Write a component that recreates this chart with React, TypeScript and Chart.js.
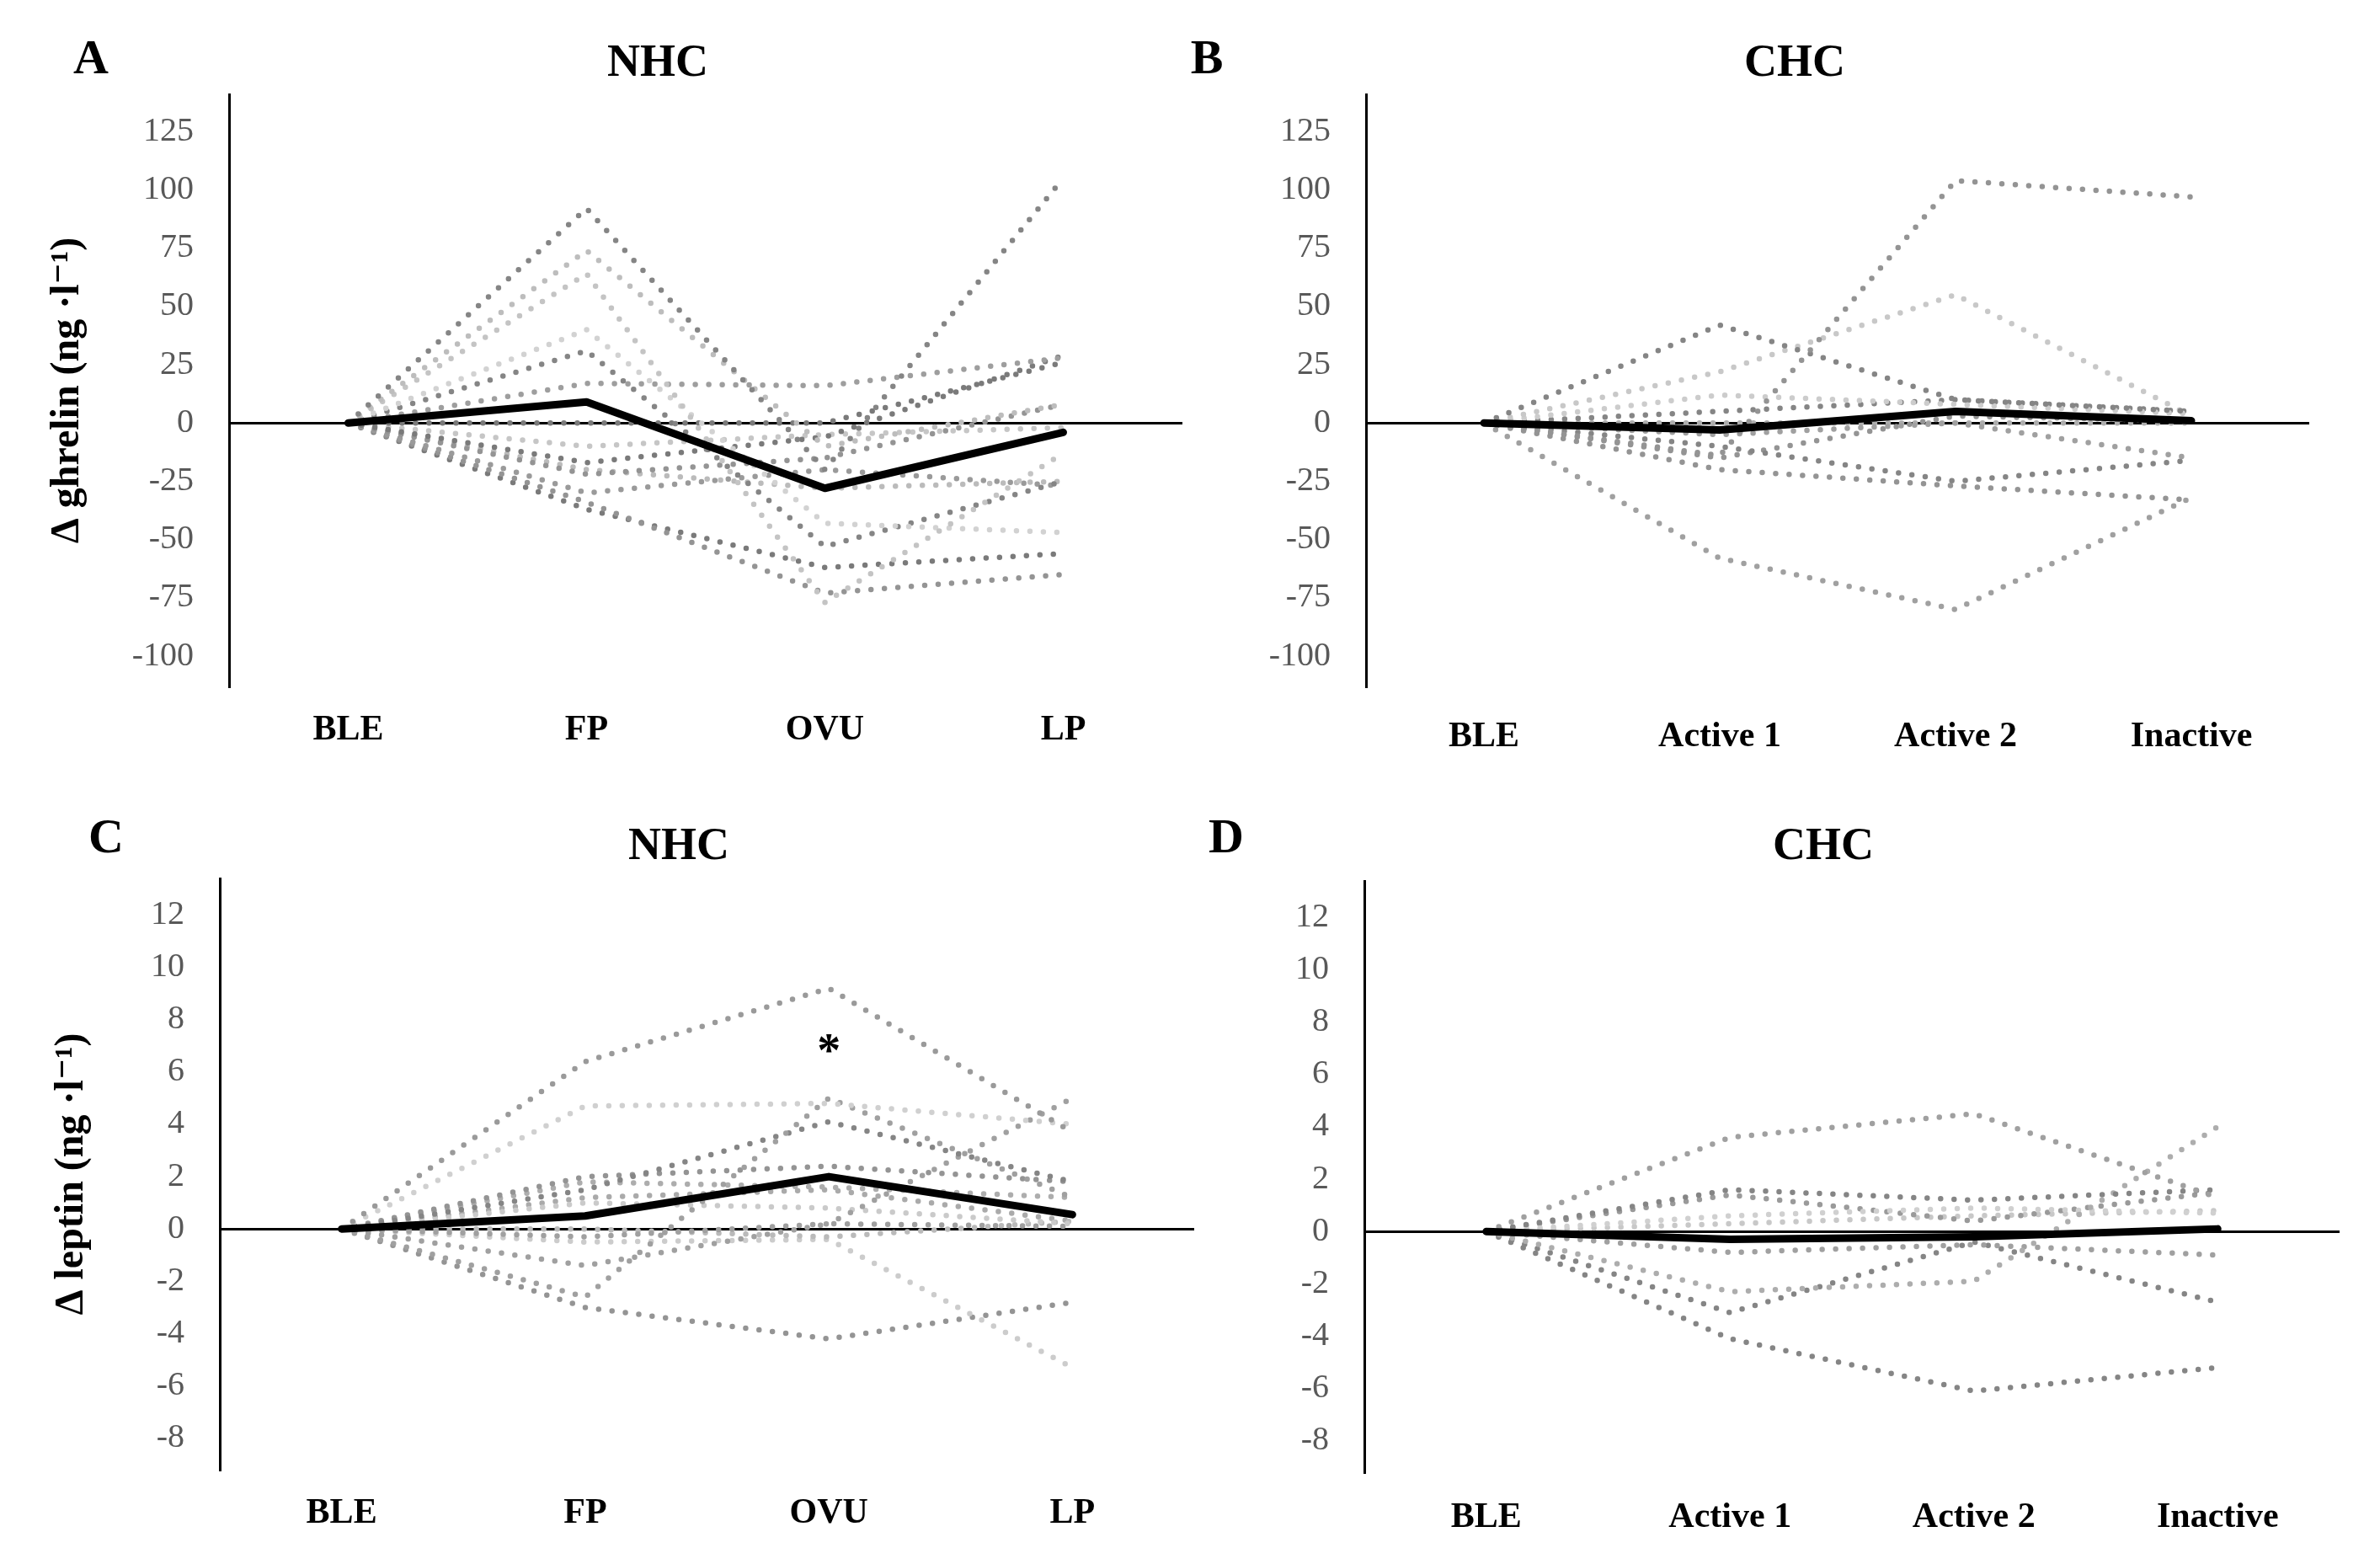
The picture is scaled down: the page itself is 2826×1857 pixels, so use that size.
import { Chart, registerables } from 'chart.js';
import { useEffect, useRef, type FC } from 'react';

Chart.register(...registerables);

const SERIF = "'Liberation Serif', 'DejaVu Serif', serif";
Chart.defaults.font.family = SERIF;

// categories
const cycleLabels = ['BLE', 'FP', 'OVU', 'LP'];
const pillLabels = ['BLE', 'Active 1', 'Active 2', 'Inactive'];

// tick labels
const ghrelinTicks = [-100, -75, -50, -25, 0, 25, 50, 75, 100, 125];
const leptinTicks = [-8, -6, -4, -2, 0, 2, 4, 6, 8, 10, 12];

// A: ghrelin, NHC
const ghrelinNhcMean = [0, 9, -28, -4];
const ghrelinNhcSubjects = [
  [0, 92, -20, 105],
  [0, 74, -10, 8],
  [0, 64, -77, -13],
  [0, 40, -43, -47],
  [0, 31, -53, -25],
  [0, 17, 16, 28],
  [0, 0, 0, 26],
  [0, -17, -6, 29],
  [0, -22, -15, 8],
  [0, -30, -20, -27],
  [0, -34, -73, -65],
  [0, -37, -62, -56],
  [0, -20, -28, -25],
  [0, -10, -5, -2],
];

// B: ghrelin, CHC
const ghrelinChcMean = [0, -3, 5, 1];
const ghrelinChcSubjects = [
  [0, -14, 104, 97],
  [0, 42, 10, 5],
  [0, 22, 55, 3],
  [0, 12, 8, 4],
  [0, 5, 10, 5],
  [0, -5, 0, -15],
  [0, -10, -25, -16],
  [0, -20, -27, -33],
  [0, -58, -80, -32],
  [0, -15, 3, 1],
  [0, 0, 0, 0],
];

// C: leptin, NHC
const leptinNhcMean = [0, 0.5, 2.0, 0.55];
const leptinNhcSubjects = [
  [0, 6.4, 9.2, 3.7],
  [0, 4.7, 4.8, 4.0],
  [0, -2.6, 5.0, 1.2],
  [0, 1.5, 4.1, 1.8],
  [0, -0.3, 0.2, 5.0],
  [0, 2.0, 2.4, 1.8],
  [0, 1.8, 1.6, 1.2],
  [0, 1.0, 0.8, 0.2],
  [0, -1.4, 0.2, 0.1],
  [0, 0, -0.3, 0.3],
  [0, -0.5, -0.4, -5.3],
  [0, -3.0, -4.2, -2.8],
  [0, 1.2, 1.5, 0.3],
];
const leptinNhcStar = { category: 'OVU', value: 7 };

// D: leptin, CHC
const leptinChcMean = [0, -0.3, -0.2, 0.1];
const leptinChcSubjects = [
  [0, 3.6, 4.5, 1.3],
  [0, 1.6, 1.2, 1.6],
  [0, -2.3, -1.9, 4.0],
  [0, 0.6, 0.9, 0.7],
  [0, -0.8, -0.5, -0.9],
  [0, -3.1, -0.4, -2.7],
  [0, -4.1, -6.1, -5.2],
  [0, 1.4, 0.4, 1.5],
  [0, 0.3, 0.6, 0.8],
];

const shadesA = ['#858585', '#bdbdbd', '#c4c4c4', '#d2d2d2', '#858585', '#9e9e9e', '#7a7a7a', '#7a7a7a', '#949494', '#9a9a9a', '#949494', '#7a7a7a', '#bbbbbb', '#c6c6c6'];
const shadesB = ['#949494', '#858585', '#c8c8c8', '#cccccc', '#858585', '#a0a0a0', '#858585', '#949494', '#a0a0a0', '#949494', '#adadad'];
const shadesC = ['#9a9a9a', '#d0d0d0', '#a0a0a0', '#858585', '#a0a0a0', '#949494', '#adadad', '#cacaca', '#a0a0a0', '#bababa', '#cccccc', '#949494', '#aaaaaa'];
const shadesD = ['#a0a0a0', '#858585', '#adadad', '#d0d0d0', '#a0a0a0', '#858585', '#858585', '#9a9a9a', '#c8c8c8'];

const starPlugin = {
  id: 'star',
  afterDatasetsDraw(chart: any, _args: any, opts: any) {
    if (!opts || !opts.category) return;
    const idx = chart.data.labels.indexOf(opts.category);
    const x = chart.scales.x.getPixelForValue(idx);
    const y = chart.scales.y.getPixelForValue(opts.value);
    const ctx = chart.ctx;
    ctx.save();
    ctx.font = `bold 56px ${SERIF}`;
    ctx.fillStyle = '#000';
    ctx.textAlign = 'center';
    ctx.textBaseline = 'middle';
    ctx.fillText('*', x, y + 10);
    ctx.restore();
  },
};

type PanelProps = {
  left: number;
  top: number;
  width: number;
  height: number;
  labels: string[];
  subjects: number[][];
  shades: string[];
  mean: number[];
  ticks: number[];
  min: number;
  max: number;
  yTitle?: string;
  pad: { left: number; right: number; top: number };
  yWidth: number;
  xHeight: number;
  labelGap: number;
  star?: { category: string; value: number };
};

const Panel: FC<PanelProps> = (p) => {
  const canvasRef = useRef<HTMLCanvasElement>(null);
  const chartRef = useRef<Chart | null>(null);

  useEffect(() => {
    if (!canvasRef.current) return;
    const ctx = canvasRef.current.getContext('2d');
    if (!ctx) return;

    const datasets: any[] = [
      {
        data: p.mean,
        borderColor: '#000',
        borderWidth: 9,
        borderCapStyle: 'round',
        borderJoinStyle: 'round',
        pointRadius: 0,
        order: 0,
      },
      ...p.subjects.map((s, i) => ({
        data: s,
        borderColor: p.shades[i % p.shades.length],
        borderWidth: 6.5,
        borderDash: [0, 16],
        borderCapStyle: 'round',
        pointRadius: 0,
        order: 1,
      })),
    ];

    chartRef.current = new Chart(ctx, {
      type: 'line',
      data: { labels: p.labels, datasets },
      plugins: [starPlugin],
      options: {
        responsive: false,
        animation: false,
        devicePixelRatio: 1,
        layout: { padding: { left: p.pad.left, right: p.pad.right, top: p.pad.top, bottom: 0 } },
        plugins: {
          legend: { display: false },
          tooltip: { enabled: false },
          star: p.star ?? {},
        } as any,
        scales: {
          x: {
            offset: true,
            grid: { display: false },
            border: { display: false },
            ticks: { color: '#000', font: { size: 42, weight: 'bold' }, padding: p.labelGap, maxRotation: 0 },
            afterFit: (s: any) => {
              s.height = p.xHeight;
            },
          },
          y: {
            min: p.min,
            max: p.max,
            afterBuildTicks: (s: any) => {
              s.ticks = p.ticks.map((v) => ({ value: v }));
            },
            afterFit: (s: any) => {
              s.width = p.yWidth;
            },
            grid: {
              drawTicks: false,
              lineWidth: 3,
              color: (c: any) => (c.tick && c.tick.value === 0 ? '#000' : 'rgba(0,0,0,0)'),
            },
            border: { display: true, color: '#000', width: 3 },
            ticks: { color: '#595959', font: { size: 40 }, padding: 42 },
            title: {
              display: !!p.yTitle,
              text: p.yTitle ?? '',
              color: '#000',
              font: { size: 48, weight: 'bold' },
            },
          },
        },
      },
    });

    return () => {
      chartRef.current?.destroy();
    };
  }, []);

  return (
    <canvas
      ref={canvasRef}
      width={p.width}
      height={p.height}
      style={{ position: 'absolute', left: p.left, top: p.top }}
    />
  );
};

const textStyle = (x: number, y: number, size: number): React.CSSProperties => ({
  position: 'absolute',
  left: x,
  top: y,
  transform: 'translate(-50%, -50%)',
  fontFamily: SERIF,
  fontWeight: 'bold',
  fontSize: size,
  color: '#000',
  whiteSpace: 'nowrap',
  lineHeight: 1,
});

export default function App() {
  return (
    <div style={{ position: 'absolute', left: 0, top: 0, width: 2826, height: 1857, background: '#fff', overflow: 'hidden' }}>
      <Panel
        left={0}
        top={0}
        width={1413}
        height={928}
        labels={cycleLabels}
        subjects={ghrelinNhcSubjects}
        shades={shadesA}
        mean={ghrelinNhcMean}
        ticks={ghrelinTicks}
        min={-113}
        max={141}
        yTitle="Δ ghrelin (ng ·l⁻¹)"
        pad={{ left: 48, right: 9, top: 112 }}
        yWidth={224}
        xHeight={113}
        labelGap={19}
      />
      <Panel
        left={1413}
        top={0}
        width={1413}
        height={928}
        labels={pillLabels}
        subjects={ghrelinChcSubjects}
        shades={shadesB}
        mean={ghrelinChcMean}
        ticks={ghrelinTicks}
        min={-113}
        max={141}
        pad={{ left: 0, right: 84, top: 112 }}
        yWidth={209}
        xHeight={113}
        labelGap={27}
      />
      <Panel
        left={0}
        top={928}
        width={1425}
        height={929}
        labels={cycleLabels}
        subjects={leptinNhcSubjects}
        shades={shadesC}
        mean={leptinNhcMean}
        ticks={leptinTicks}
        min={-9.2}
        max={13.4}
        yTitle="Δ leptin (ng ·l⁻¹)"
        pad={{ left: 53, right: 7, top: 115 }}
        yWidth={208}
        xHeight={112}
        labelGap={19}
        star={leptinNhcStar}
      />
      <Panel
        left={1413}
        top={928}
        width={1413}
        height={929}
        labels={pillLabels}
        subjects={leptinChcSubjects}
        shades={shadesD}
        mean={leptinChcMean}
        ticks={leptinTicks}
        min={-9.2}
        max={13.4}
        pad={{ left: 0, right: 48, top: 118 }}
        yWidth={207}
        xHeight={109}
        labelGap={21}
      />
      <div style={textStyle(108, 68, 58)}>A</div>
      <div style={textStyle(781, 72, 54)}>NHC</div>
      <div style={textStyle(1433, 68, 58)}>B</div>
      <div style={textStyle(2131, 72, 54)}>CHC</div>
      <div style={textStyle(126, 993, 58)}>C</div>
      <div style={textStyle(806, 1002, 54)}>NHC</div>
      <div style={textStyle(1456, 993, 58)}>D</div>
      <div style={textStyle(2165, 1002, 54)}>CHC</div>
    </div>
  );
}
